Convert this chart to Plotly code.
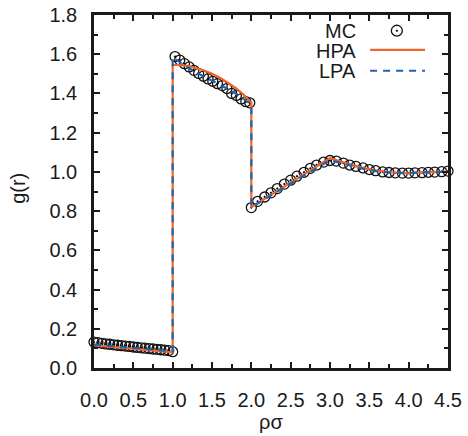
import plotly.graph_objects as go

# ---- data ----
mc_x = [0.0, 0.05, 0.1, 0.15, 0.2, 0.25, 0.3, 0.35, 0.4, 0.45, 0.5, 0.55, 0.6, 0.65, 0.7,
        0.75, 0.8, 0.85, 0.9, 0.95, 1.0,
        1.03, 1.09, 1.15, 1.21, 1.27, 1.33, 1.39, 1.45, 1.51, 1.57, 1.63, 1.69, 1.75,
        1.81, 1.87, 1.93, 1.98,
        2.0, 2.08, 2.17, 2.25, 2.33, 2.42, 2.5, 2.58, 2.67, 2.75, 2.83, 2.92, 3.0,
        3.08, 3.17, 3.25, 3.33, 3.42, 3.5, 3.58, 3.67, 3.75, 3.83, 3.92, 4.0,
        4.08, 4.17, 4.25, 4.33, 4.42, 4.5]
mc_y = [0.132, 0.129, 0.126, 0.123, 0.121, 0.118, 0.116, 0.114, 0.112, 0.110, 0.107,
        0.105, 0.103, 0.101, 0.099, 0.097, 0.095, 0.093, 0.091, 0.089, 0.083,
        1.588, 1.570, 1.552, 1.535, 1.518, 1.502, 1.488, 1.474, 1.462, 1.450, 1.440,
        1.425, 1.400, 1.390, 1.372, 1.358, 1.352,
        0.818, 0.850, 0.872, 0.893, 0.915, 0.938, 0.958, 0.978, 0.998, 1.018, 1.035,
        1.050, 1.058, 1.055, 1.045, 1.035, 1.028, 1.020, 1.012, 1.006, 1.000,
        0.997, 0.995, 0.994, 0.994, 0.995, 0.996, 0.998, 0.999, 1.001, 1.004]

hpa_x = [0.0, 0.5, 1.0, 1.0, 1.1, 1.2, 1.3, 1.4, 1.5, 1.6, 1.7, 1.8, 1.9, 2.0, 2.0,
         2.5, 3.0, 3.2, 3.4, 3.6, 3.8, 4.0, 4.2, 4.4, 4.5]
hpa_y = [0.115, 0.098, 0.080, 1.545, 1.545, 1.540, 1.530, 1.517, 1.500, 1.480, 1.455,
         1.428, 1.395, 1.352, 0.820, 0.945, 1.070, 1.045, 1.022, 1.006, 0.997, 0.993,
         0.999, 1.000, 1.001]

lpa_x = [0.0, 0.5, 1.0, 1.0, 1.2, 1.4, 1.6, 1.8, 2.0, 2.0, 2.5, 3.0, 3.2, 3.4, 3.6,
         3.8, 4.0, 4.2, 4.4, 4.5]
lpa_y = [0.120, 0.102, 0.085, 1.585, 1.530, 1.485, 1.445, 1.400, 1.345, 0.820, 0.938,
         1.060, 1.040, 1.018, 1.003, 0.996, 0.995, 0.999, 1.000, 1.001]

x_ticks = [0.0, 0.5, 1.0, 1.5, 2.0, 2.5, 3.0, 3.5, 4.0, 4.5]
y_ticks = [0.0, 0.2, 0.4, 0.6, 0.8, 1.0, 1.2, 1.4, 1.6, 1.8]

ORANGE = "#F2642A"
BLUE = "#1E63AE"
FONT = "Liberation Sans, Arial, sans-serif"
TXT = "#1a1a1a"
FS = 20

fig = go.Figure()
fig.add_trace(go.Scatter(x=mc_x, y=mc_y, mode="markers", name="MC", cliponaxis=False,
                         marker=dict(symbol="circle-open-dot", size=10, color="#111",
                                     line=dict(width=1.3, color="#111"))))
fig.add_trace(go.Scatter(x=hpa_x, y=hpa_y, mode="lines", name="HPA",
                         line=dict(color=ORANGE, width=2.2)))
fig.add_trace(go.Scatter(x=lpa_x, y=lpa_y, mode="lines", name="LPA",
                         line=dict(color=BLUE, width=2.2, dash="7px,6px")))

axis_common = dict(showline=True, linecolor="#1a1a1a", linewidth=2.5, mirror="ticks",
                   ticks="inside", ticklen=6, tickwidth=1.5, tickcolor="#1a1a1a",
                   showgrid=False, zeroline=False, automargin=False,
                   tickfont=dict(family=FONT, size=FS, color=TXT))

fig.update_xaxes(range=[0, 4.5], tickvals=x_ticks, ticktext=[f"{v:.1f}" for v in x_ticks],
                 minor=dict(dtick=0.25, ticks="inside", ticklen=4, tickwidth=1.5,
                            tickcolor="#1a1a1a"),
                 ticklabelstandoff=12, **axis_common)
fig.update_yaxes(range=[0, 1.8], tickvals=y_ticks, ticktext=[f"{v:.1f}" for v in y_ticks],
                 minor=dict(dtick=0.1, ticks="inside", ticklen=4, tickwidth=1.5,
                            tickcolor="#1a1a1a"),
                 ticklabelstandoff=10, **axis_common)

# axis titles
fig.add_annotation(x=-0.215, y=0.51, xref="paper", yref="paper", text="g(r)",
                   textangle=-90, showarrow=False, xanchor="center", yanchor="middle",
                   font=dict(family=FONT, size=FS, color=TXT))
fig.add_annotation(x=0.5, y=-0.152, xref="paper", yref="paper", text="ρσ",
                   showarrow=False, xanchor="center", yanchor="middle",
                   font=dict(family=FONT, size=FS, color=TXT))

# gnuplot-style legend: text right-aligned, sample on the right
leg_rows = [("MC", 0.955), ("HPA", 0.899), ("LPA", 0.840)]
for name, yp in leg_rows:
    fig.add_annotation(x=0.742, y=yp, xref="paper", yref="paper", text=name,
                       showarrow=False, xanchor="right", yanchor="middle", borderpad=0,
                       font=dict(family=FONT, size=FS, color=TXT))
shapes = [
    dict(type="circle", xref="paper", yref="paper", x0=0.840, x1=0.871, y0=0.940, y1=0.971,
         line=dict(color="#111", width=1.3)),
    dict(type="circle", xref="paper", yref="paper", x0=0.8535, x1=0.8575, y0=0.9535, y1=0.9575,
         line=dict(color="#111", width=1), fillcolor="#111"),
    dict(type="line", xref="paper", yref="paper", x0=0.780, x1=0.935, y0=0.901, y1=0.901,
         line=dict(color=ORANGE, width=2.2)),
    dict(type="line", xref="paper", yref="paper", x0=0.780, x1=0.935, y0=0.842, y1=0.842,
         line=dict(color=BLUE, width=2.2, dash="7px,6px")),
]
fig.update_layout(shapes=shapes, showlegend=False,
                  width=468, height=436, margin=dict(l=94, r=20, t=15, b=68),
                  paper_bgcolor="white", plot_bgcolor="white",
                  font=dict(family=FONT, size=FS, color=TXT))

fig.write_html("out.html", config={"displayModeBar": False},
               post_script="document.body.style.margin='0';document.body.style.padding='0';")
